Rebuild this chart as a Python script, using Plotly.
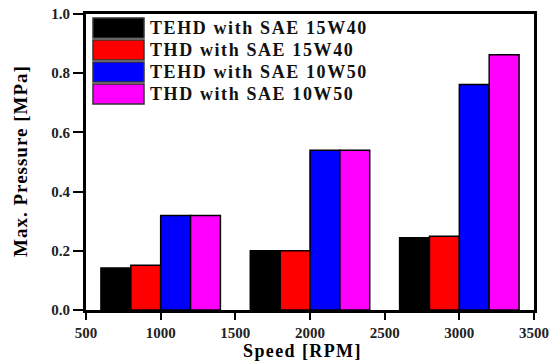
import plotly.graph_objects as go

speeds = [1000, 2000, 3000]
series_names = ["TEHD with SAE 15W40", "THD with SAE 15W40", "TEHD with SAE 10W50", "THD with SAE 10W50"]
legend_labels = ["TEHD with SAE 15W40", "THD with SAE 15W40", "TEHD with SAE 10W50", "THD with SAE 10W50"]
tehd_15w40 = [0.142, 0.200, 0.244]
thd_15w40 = [0.151, 0.200, 0.249]
tehd_10w50 = [0.319, 0.540, 0.762]
thd_10w50 = [0.319, 0.540, 0.862]
colors = ["#000000", "#ff0000", "#0000ff", "#ff00ff"]
x_ticks = [500, 1000, 1500, 2000, 2500, 3000, 3500]
y_ticks = [0.0, 0.2, 0.4, 0.6, 0.8, 1.0]
x_title = "Speed [RPM]"
y_title = "Max. Pressure [MPa]"

series_values = [tehd_15w40, thd_15w40, tehd_10w50, thd_10w50]

FONT = "Liberation Serif"


def spaced(text, px):
    return f"<span style='letter-spacing:{px}px'>{text}</span>"


fig = go.Figure()
for name, vals, col in zip(series_names, series_values, colors):
    fig.add_trace(go.Bar(
        x=speeds, y=vals, name=name,
        marker=dict(color=col, line=dict(color="#000000", width=1.5)),
        showlegend=False,
    ))

fig.update_layout(
    width=554, height=361,
    margin=dict(l=86, r=20, t=14, b=51),
    paper_bgcolor="white", plot_bgcolor="white",
    barmode="group", bargap=0.2, bargroupgap=0,
    font=dict(family=FONT, color="black"),
)

fig.update_xaxes(
    range=[500, 3500], tickvals=x_ticks, ticktext=[str(v) for v in x_ticks],
    showgrid=False, zeroline=False, automargin=False,
    showline=True, linecolor="black", linewidth=3, mirror=True,
    ticks="outside", ticklen=7, tickwidth=2, tickcolor="black",
    tickfont=dict(family=FONT, size=15, color="#222222", weight="bold"),
)
fig.update_yaxes(
    range=[0, 1.0], tickvals=y_ticks, tickformat=".1f",
    showgrid=False, zeroline=False, automargin=False,
    showline=True, linecolor="black", linewidth=3, mirror=True,
    ticks="outside", ticklen=10, tickwidth=2, tickcolor="black",
    tickfont=dict(family=FONT, size=15, color="#222222", weight="bold"),
)

plot_w, plot_h = 448.0, 296.0

# axis titles as annotations (precise placement)
fig.add_annotation(xref="paper", yref="paper", x=(302 - 86) / plot_w, y=(310 - 350.5) / plot_h,
                   xanchor="center", yanchor="middle", showarrow=False, text=spaced(x_title, 1.4),
                   borderpad=0, font=dict(family=FONT, size=18, color="black", weight="bold"))
fig.add_annotation(xref="paper", yref="paper", x=(20 - 86) / plot_w, y=(310 - 161) / plot_h,
                   xanchor="center", yanchor="middle", showarrow=False, text=spaced(y_title, 1),
                   textangle=-90, borderpad=0,
                   font=dict(family=FONT, size=19, color="black", weight="bold"))

# custom legend (large swatches) in paper coordinates
x0 = (93 - 86) / plot_w
x1 = (144 - 86) / plot_w
xt = (149 - 86) / plot_w
for i, (lab, col) in enumerate(zip(legend_labels, colors)):
    cy = 28 + 22 * i
    y_top = (310 - (cy - 10)) / plot_h
    y_bot = (310 - (cy + 10)) / plot_h
    fig.add_shape(type="rect", xref="paper", yref="paper",
                  x0=x0, x1=x1, y0=y_bot, y1=y_top,
                  fillcolor=col, line=dict(color="#333333", width=1.5))
    fig.add_annotation(xref="paper", yref="paper", x=xt, y=(310 - cy) / plot_h,
                       xanchor="left", yanchor="middle", showarrow=False, borderpad=0,
                       text=spaced(lab, 1.6),
                       font=dict(family=FONT, size=18, color="#111111", weight="bold"))

fig.write_html("out.html", config={"displayModeBar": False},
               post_script="document.body.style.margin='0';document.body.style.padding='0';")
